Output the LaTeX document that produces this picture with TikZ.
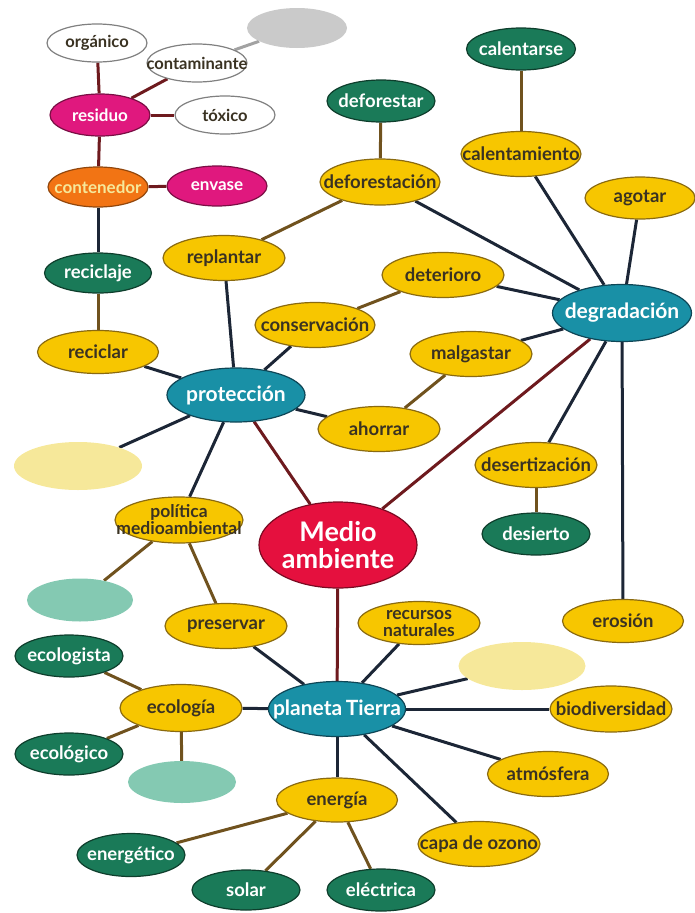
\documentclass[tikz,border=0pt]{standalone}
\usepackage{fontspec}
\setmainfont{Lato}
\usepackage{tikz}
\usetikzlibrary{shapes.geometric, backgrounds}
\definecolor{Gold}{HTML}{F7C600}
\definecolor{GoldEdge}{HTML}{8A6A10}
\definecolor{Ink}{HTML}{3A3222}
\definecolor{Forest}{HTML}{1A7A58}
\definecolor{ForestEdge}{HTML}{0E3E2C}
\definecolor{Lagoon}{HTML}{1990A6}
\definecolor{LagoonEdge}{HTML}{0E4656}
\definecolor{Fuchsia}{HTML}{E0187E}
\definecolor{FuchsiaEdge}{HTML}{7A0E44}
\definecolor{Tangerine}{HTML}{F27414}
\definecolor{Crimson}{HTML}{E5103E}
\definecolor{CrimsonEdge}{HTML}{7A0A22}
\definecolor{PaleGold}{HTML}{F6E89A}
\definecolor{PaleMint}{HTML}{84C9B2}
\definecolor{Ash}{HTML}{CACACA}
\definecolor{Navy}{HTML}{1C2636}
\definecolor{Maroon}{HTML}{6E1A1E}
\definecolor{Umber}{HTML}{70521E}
% text may run over the rim, as in the original map
\newcommand{\ctxt}[1]{\makebox[0pt]{#1}}
\tikzstyle{concept} = [ellipse, inner sep=0pt, align=center, line width=1.2pt, font=\bfseries\fontsize{18.5}{16}\selectfont]
\tikzstyle{yel} = [concept, fill=Gold, draw=GoldEdge, text=Ink, minimum width=122pt, minimum height=45pt]
\tikzstyle{grn} = [concept, fill=Forest, draw=ForestEdge, text=white, minimum width=108pt, minimum height=42pt]
\tikzstyle{hub} = [concept, fill=Lagoon, draw=LagoonEdge, text=white, minimum width=138pt, minimum height=55pt, font=\bfseries\fontsize{21}{21}\selectfont]
\tikzstyle{wht} = [concept, fill=white, draw=gray, text=Ink, minimum width=100pt, minimum height=38pt, font=\bfseries\fontsize{16.5}{16}\selectfont]
\tikzstyle{mag} = [concept, fill=Fuchsia, draw=FuchsiaEdge, text=white, minimum width=100pt, minimum height=40pt, font=\bfseries\fontsize{17}{16}\selectfont]
\tikzstyle{blank} = [ellipse, inner sep=0pt, minimum width=#1, minimum height=44pt]
\tikzstyle{navyline} = [line width=3pt, color=Navy]
\tikzstyle{maroonline} = [line width=3pt, color=Maroon]
\tikzstyle{brownline} = [line width=3pt, color=Umber]
\begin{document}
\begin{tikzpicture}[x=1pt, y=-1pt]
        \useasboundingbox (0,0) rectangle (695,913);
        % residuos
        \node [wht] (organico) at (97,43) {\ctxt{orgánico}};
        \node [wht] (contaminante) at (197,63) {\ctxt{contaminante}};
        \node [blank=100pt, fill=Ash, minimum height=40pt] (grey) at (297,28) {};
        \node [mag, minimum height=42pt] (residuo) at (100,115) {\ctxt{residuo}};
        \node [wht] (toxico) at (225,115) {\ctxt{tóxico}};
        \node [mag, fill=Tangerine, draw=Tangerine!60!black, text=PaleGold] (contenedor) at (98,187) {\ctxt{contenedor}};
        \node [mag] (envase) at (217,186) {\ctxt{envase}};
        \node [grn, minimum width=107pt, minimum height=40pt] (reciclaje) at (98,273) {\ctxt{reciclaje}};
        \node [yel, minimum width=121pt, minimum height=43pt] (reciclar) at (98,352) {\ctxt{reciclar}};

        % degradacion
        \node [grn, minimum width=109pt] (calentarse) at (521,49) {\ctxt{calentarse}};
        \node [grn] (deforestar) at (381,101) {\ctxt{deforestar}};
        \node [yel, minimum width=120pt] (calentamiento) at (521,154) {\ctxt{calentamiento}};
        \node [yel, minimum width=120pt, minimum height=46pt] (deforestacion) at (380,182) {\ctxt{deforestación}};
        \node [yel, minimum width=110pt, minimum height=42pt] (agotar) at (640,198) {\ctxt{agotar}};
        \node [yel] (replantar) at (224,258) {\ctxt{replantar}};
        \node [yel] (deterioro) at (443,275) {\ctxt{deterioro}};
        \node [hub, minimum width=139pt, minimum height=57pt] (degradacion) at (622,313) {\ctxt{degradación}};
        \node [yel, minimum width=120pt] (conservacion) at (315,325) {\ctxt{conservación}};
        \node [yel] (malgastar) at (471,354) {\ctxt{malgastar}};

        % proteccion
        \node [hub, minimum height=54pt] (proteccion) at (236,395) {\ctxt{protección}};
        \node [yel] (ahorrar) at (379,429) {\ctxt{ahorrar}};
        \node [blank=128pt, fill=PaleGold, minimum height=48pt] (paleleft) at (78,466) {};
        \node [yel] (desertizacion) at (536,465) {\ctxt{desertización}};
        \node [yel, minimum width=128pt, minimum height=46pt, font=\bfseries\fontsize{17.5}{17}\selectfont] (politica) at (179,520) {\ctxt{política}\\\ctxt{medioambiental}};
        \node [grn] (desierto) at (536,534) {\ctxt{desierto}};
        \node [concept, fill=Crimson, draw=CrimsonEdge, text=white, minimum width=158pt, minimum height=86pt, font=\bfseries\fontsize{27}{27}\selectfont] (medio) at (338,545) {\ctxt{Medio}\\\ctxt{ambiente}};
        \node [blank=106pt, fill=PaleMint, minimum height=43pt] (mintleft) at (80,600) {};
        \node [yel] (preservar) at (226,626) {\ctxt{preservar}};
        \node [yel, minimum width=121pt, minimum height=43pt] (erosion) at (623,621) {\ctxt{erosión}};
        \node [yel, minimum height=43pt, font=\bfseries\fontsize{17.5}{17}\selectfont] (recursos) at (419,623) {\ctxt{recursos}\\\ctxt{naturales}};

        % planeta
        \node [hub, minimum width=137pt] (planeta) at (337,709) {\ctxt{planeta\,Tierra}};
        \node [blank=127pt, fill=PaleGold, minimum height=48pt] (paleright) at (522,666) {};
        \node [yel, minimum height=46pt] (biodiversidad) at (611,709) {\ctxt{biodiversidad}};
        \node [grn] (ecologista) at (69,656) {\ctxt{ecologista}};
        \node [yel, minimum height=47pt] (ecologia) at (181,708) {\ctxt{ecología}};
        \node [grn] (ecologico) at (69,754) {\ctxt{ecológico}};
        \node [blank=108pt, fill=PaleMint, minimum height=42pt] (mintlow) at (182,782) {};
        \node [yel, minimum width=121pt] (atmosfera) at (548,774) {\ctxt{atmósfera}};
        \node [yel, minimum width=121pt, minimum height=44pt] (energia) at (337,800) {\ctxt{energía}};
        \node [yel] (ozono) at (479,844) {\ctxt{capa de ozono}};
        \node [grn, minimum height=43pt] (energetico) at (131,855) {\ctxt{energético}};
        \node [grn, minimum height=40pt] (solar) at (246,890) {\ctxt{solar}};
        \node [grn] (electrica) at (381,890) {\ctxt{eléctrica}};

        % Connect nodes
        \begin{scope}[on background layer]
            \draw [line width=3pt, color=Ash!80!black] (contaminante) -- (grey);
            \draw [maroonline] (organico) -- (residuo);
            \draw [maroonline] (residuo) -- (contaminante);
            \draw [maroonline] (residuo) -- (toxico);
            \draw [maroonline] (residuo) -- (contenedor);
            \draw [maroonline] (contenedor) -- (envase);
            \draw [navyline] (contenedor) -- (reciclaje);
            \draw [brownline] (reciclaje) -- (reciclar);

            \draw [brownline] (calentarse) -- (calentamiento);
            \draw [brownline] (deforestar) -- (deforestacion);
            \draw [brownline] (deforestacion) -- (replantar);
            \draw [brownline] (deterioro) -- (conservacion);
            \draw [brownline] (malgastar) -- (ahorrar);
            \draw [brownline] (desertizacion) -- (desierto);
            \draw [navyline] (calentamiento) -- (degradacion);
            \draw [navyline] (deforestacion) -- (degradacion);
            \draw [navyline] (agotar) -- (degradacion);
            \draw [navyline] (deterioro) -- (degradacion);
            \draw [navyline] (malgastar) -- (degradacion);
            \draw [navyline] (degradacion) -- (desertizacion);
            \draw [navyline] (degradacion) -- (erosion);

            \draw [navyline] (reciclar) -- (proteccion);
            \draw [navyline] (replantar) -- (proteccion);
            \draw [navyline] (conservacion) -- (proteccion);
            \draw [navyline] (proteccion) -- (ahorrar);
            \draw [navyline] (proteccion) -- (paleleft);
            \draw [navyline] (proteccion) -- (politica);
            \draw [brownline] (politica) -- (mintleft);
            \draw [brownline] (politica) -- (preservar);

            \draw [maroonline] (medio) -- (proteccion);
            \draw [maroonline] (medio) -- (degradacion);
            \draw [maroonline] (medio) -- (planeta);

            \draw [navyline] (preservar) -- (planeta);
            \draw [navyline] (recursos) -- (planeta);
            \draw [navyline] (paleright) -- (planeta);
            \draw [navyline] (biodiversidad) -- (planeta);
            \draw [navyline] (atmosfera) -- (planeta);
            \draw [navyline] (ozono) -- (planeta);
            \draw [navyline] (energia) -- (planeta);
            \draw [navyline] (ecologia) -- (planeta);
            \draw [brownline] (ecologia) -- (ecologista);
            \draw [brownline] (ecologia) -- (ecologico);
            \draw [brownline] (ecologia) -- (mintlow);
            \draw [brownline] (energia) -- (energetico);
            \draw [brownline] (energia) -- (solar);
            \draw [brownline] (energia) -- (electrica);
        \end{scope}
    \end{tikzpicture}
\end{document}
